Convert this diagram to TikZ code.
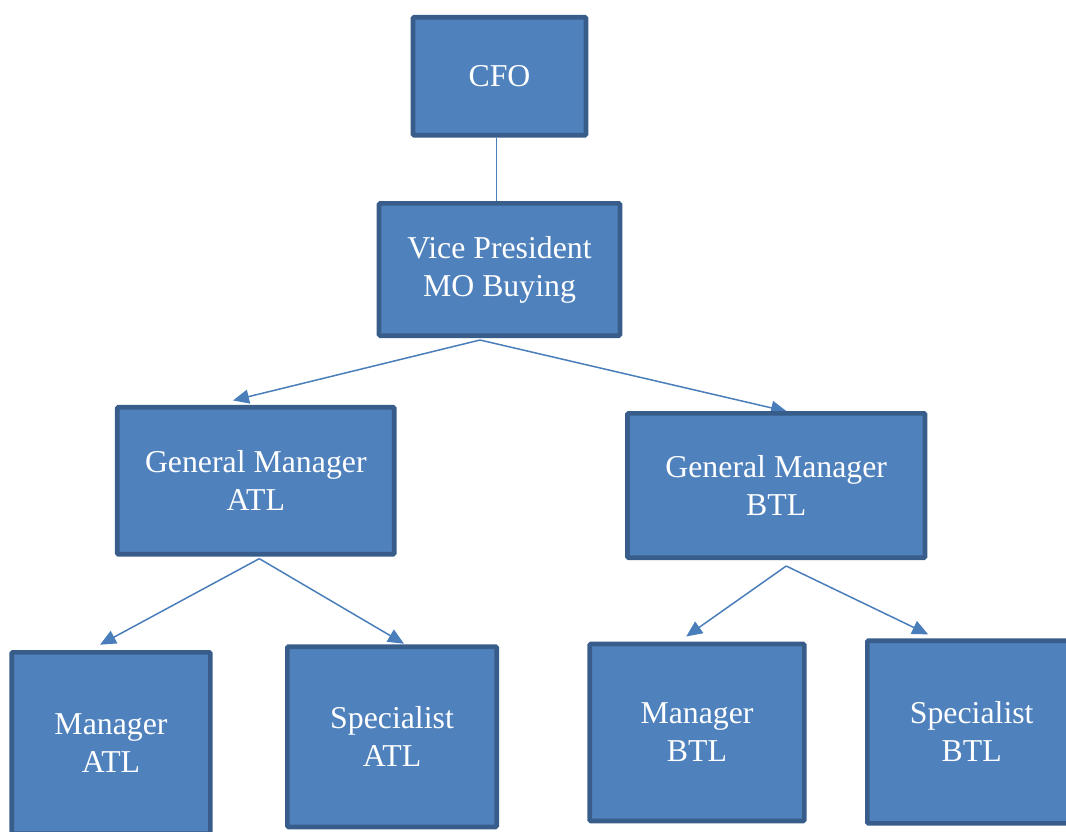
\documentclass[tikz,border=0pt]{standalone}
\usepackage{fontspec}
\setmainfont{Liberation Serif}
\usetikzlibrary{arrows.meta,backgrounds}
\definecolor{boxfill}{HTML}{4F81BD}
\definecolor{boxline}{HTML}{385D8A}
\definecolor{linkcol}{HTML}{4A7EBB}
\tikzset{
  orgbox/.style={draw=boxline, fill=boxfill, line width=4.7pt, rounded corners=1.2pt,
    text=white, align=center, inner sep=0pt,
    font=\fontsize{31.8}{38}\selectfont},
  link/.style={draw=linkcol, line width=1.5pt},
  arrowlink/.style={link, -{Triangle[length=16pt,width=14pt]}}
}
\begin{document}
\begin{tikzpicture}[x=1pt,y=1pt]
  \useasboundingbox (0,0) rectangle (1066,-831);
  \clip (0,0) rectangle (1066,-831);

  % boxes of the chart (centres and sizes of the border paths)
  \node[orgbox, minimum width=172.9pt, minimum height=118pt]   (cfo) at (499.5,-76.3) {CFO};
  \node[orgbox, minimum width=240.9pt, minimum height=132.3pt] (vp)  at (499.5,-269.5) {Vice President\\MO Buying};
  \node[orgbox, minimum width=277pt,   minimum height=147pt]   (gma) at (255.8,-480.8) {General Manager\\ATL};
  \node[orgbox, minimum width=297.6pt, minimum height=144.3pt] (gmb) at (776.2,-485.5) {General Manager\\BTL};
  \node[orgbox, minimum width=198.7pt, minimum height=181.3pt] (ma)  at (111,-743) {Manager\\ATL};
  \node[orgbox, minimum width=209.3pt, minimum height=180.3pt] (sa)  at (392,-736.8) {Specialist\\ATL};
  \node[orgbox, minimum width=214.7pt, minimum height=176.9pt] (mb)  at (697,-732.5) {Manager\\BTL};
  \node[orgbox, minimum width=208.7pt, minimum height=182.7pt] (sb)  at (971.7,-732) {Specialist\\BTL};

  % branch points under the parent boxes
  \coordinate (vpsplit)  at ([xshift=-19.5pt,yshift=-2pt]vp.south);
  \coordinate (gmasplit) at ([xshift=3.5pt,yshift=-2pt]gma.south);
  \coordinate (gmbsplit) at ([xshift=10pt,yshift=-6pt]gmb.south);

  % connectors run behind the boxes, so the arrow tips tuck under the borders
  \begin{pgfonlayer}{background}
    \draw[link] ([xshift=-2.8pt]cfo.south) -- ([xshift=-2.8pt]vp.north);
    \draw[arrowlink] (vpsplit) -- ([xshift=-22.8pt,yshift=4.5pt]gma.north);
    \draw[arrowlink] (vpsplit) -- ([xshift=10.8pt,yshift=-0.5pt]gmb.north);
    \draw[arrowlink] (gmasplit) -- ([xshift=-11pt,yshift=5.3pt]ma.north);
    \draw[arrowlink] (gmasplit) -- ([xshift=12pt,yshift=0.6pt]sa.north);
    \draw[arrowlink] (gmbsplit) -- ([xshift=-10.8pt,yshift=5.2pt]mb.north);
    \draw[arrowlink] (gmbsplit) -- ([xshift=63.2pt,yshift=3.9pt]sb.north west);
  \end{pgfonlayer}
\end{tikzpicture}
\end{document}
